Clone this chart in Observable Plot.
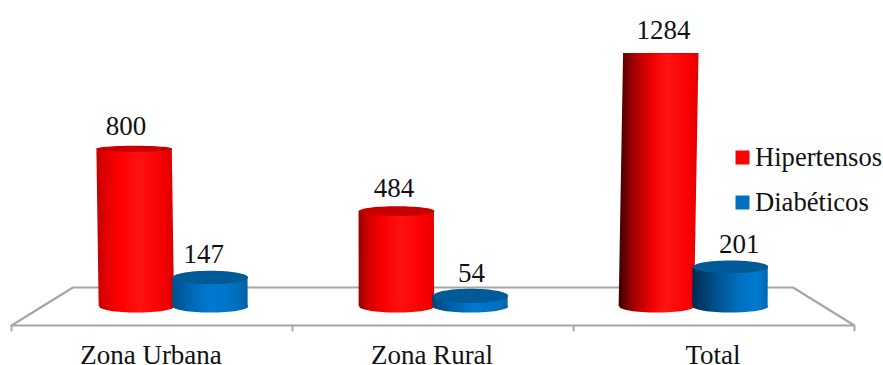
<!DOCTYPE html>
<html>
<head>
<meta charset="utf-8">
<script src="https://cdn.jsdelivr.net/npm/d3@7"></script>
<script src="https://cdn.jsdelivr.net/npm/@observablehq/plot@0.6"></script>
<style>
  html, body { margin: 0; padding: 0; background: #fff; }
  svg { display: block; }
</style>
</head>
<body>
<div id="chart"></div>
<script>
// Casos por zona
const zonas = ["Zona Urbana", "Zona Rural", "Total"];
const hipertensos = [800, 484, 1284];
const diabeticos = [147, 54, 201];
const series = ["Hipertensos", "Diabéticos"];
const serieValores = [hipertensos, diabeticos];
const leyendaColores = ["#ff0000", "#0070c0"];

// Cylinder shading, one ramp per zone: the outer zones catch more shadow on the left.
const rampas = [
  [ // red
    [[0, "#c40000"], [.14, "#e60000"], [.32, "#ff0000"], [.55, "#ff1212"], [.85, "#f60000"], [1, "#d80000"]],
    [[0, "#980000"], [.14, "#d40000"], [.34, "#fb0000"], [.55, "#ff1010"], [.85, "#fa0000"], [1, "#e60000"]],
    [[0, "#3c0000"], [.18, "#a00000"], [.42, "#ee0000"], [.6, "#ff1414"], [.88, "#fa0000"], [1, "#e00000"]]
  ],
  [ // blue
    [[0, "#005088"], [.2, "#0064ac"], [.5, "#007ad2"], [.85, "#0070c0"], [1, "#0062a8"]],
    [[0, "#004478"], [.22, "#005ea4"], [.55, "#0078d0"], [.85, "#0070c2"], [1, "#0064ac"]],
    [[0, "#002c52"], [.3, "#004f8c"], [.62, "#0070c0"], [.85, "#007acf"], [1, "#0068b4"]]
  ]
];
const tapas = ["#c80000", "#005a98"];

const fuente = "'Liberation Serif', 'Times New Roman', serif";
const tinta = "#111";
const gris = "#a6a6a6";

// The plot works in zone units across and case counts up; the floor sits around zero.
const xDomain = [0, 3];
const xRange = [42.5, 822.5];
const yDomain = [0, 1284];
const yRange = [306, 53];
const pxPorZona = (xRange[1] - xRange[0]) / (xDomain[1] - xDomain[0]);
const medio = (xDomain[0] + xDomain[1]) / 2;
const anchoBarra = 0.145;            // half a cylinder, in zone units
const rxBarra = anchoBarra * pxPorZona;
const separacion = [-0.139, 0.144];  // each series' offset from the zone centre
const fondoSuelo = 96.4;             // floor depth either side of the baseline
const abrirFrente = 843 / 780;       // front edge spreads out toward the viewer
const abrirFondo = 720 / 780;        // back edge pulls in
const desplazar = (u, k) => medio + (u - medio) * k;
const alturaAbre = (v) => 1 + v * v * 1.2e-8;   // taller cylinders lean slightly outward

const frente = (u) => desplazar(u, abrirFrente);
const fondo = (u) => desplazar(u, abrirFondo);

const suelo = [
  { u: frente(0), v: -fondoSuelo },
  { u: frente(3), v: -fondoSuelo },
  { u: fondo(3), v: fondoSuelo },
  { u: fondo(0), v: fondoSuelo },
  { u: frente(0), v: -fondoSuelo }
];

// Flattened ellipse used as a dot symbol; the dot radius sets its half-width.
function elipse(ry) {
  return {
    draw(ctx, size) {
      const rx = Math.sqrt(size / Math.PI);
      const k = 0.5523;
      ctx.moveTo(-rx, 0);
      ctx.bezierCurveTo(-rx, -ry * k, -rx * k, -ry, 0, -ry);
      ctx.bezierCurveTo(rx * k, -ry, rx, -ry * k, rx, 0);
      ctx.bezierCurveTo(rx, ry * k, rx * k, ry, 0, ry);
      ctx.bezierCurveTo(-rx * k, ry, -rx, ry * k, -rx, 0);
      ctx.closePath();
    }
  };
}

const barras = serieValores.flatMap((valores, s) =>
  valores.map((v, z) => ({
    serie: s,
    zona: z,
    valor: v,
    u: z + 0.5 + separacion[s]
  }))
);

function gradientes() {
  const defs = d3.create("svg:defs");
  rampas.forEach((porZona, s) => porZona.forEach((paradas, z) => {
    const g = defs.append("linearGradient")
      .attr("id", `cil-${s}-${z}`)
      .attr("x1", 0).attr("x2", 1).attr("y1", 0).attr("y2", 0);
    paradas.forEach(([o, c]) => g.append("stop").attr("offset", o).attr("stop-color", c));
  }));
  return defs.node();
}

function cilindro(b) {
  const relleno = `url(#cil-${b.serie}-${b.zona})`;
  const ryTapa = 7.5 * (1 - b.valor / 1350);
  const cuC = desplazar(b.u, alturaAbre(b.valor));
  const cuerpo = [
    { x1: b.u - anchoBarra, x2: b.u + anchoBarra, v: 0 },
    { x1: cuC - anchoBarra, x2: cuC + anchoBarra, v: b.valor }
  ];
  return [
    Plot.dot([b], {
      x: "u", y: () => 0, r: rxBarra, symbol: elipse(6),
      fill: relleno, stroke: "none"
    }),
    Plot.area(cuerpo, {
      x1: "x1", x2: "x2", y1: "v", y2: "v",
      fill: relleno, stroke: "none"
    }),
    Plot.dot([b], {
      x: () => cuC, y: "valor", r: rxBarra, symbol: elipse(ryTapa),
      fill: tapas[b.serie], stroke: "none"
    })
  ];
}

const plot = Plot.plot({
  width: 883,
  height: 365,
  marginTop: 0,
  marginRight: 0,
  marginBottom: 0,
  marginLeft: 0,
  style: { background: "#fff", fontFamily: fuente, color: tinta },
  x: { domain: xDomain, range: xRange, axis: null },
  y: { domain: yDomain, range: yRange, axis: null },
  marks: [
    gradientes,
    // Floor outline and the tick marks under its front edge
    Plot.line(suelo, { x: "u", y: "v", stroke: gris, strokeWidth: 2.2, strokeLinejoin: "miter" }),
    Plot.ruleX(d3.range(0, 4).map(frente), {
      x: (d) => d,
      y1: () => -fondoSuelo,
      y2: () => -fondoSuelo - 32,
      stroke: gris,
      strokeWidth: 2
    }),
    ...barras.flatMap(cilindro),
    // Counts above each cylinder
    Plot.text(barras, {
      x: (d) => desplazar(d.u - (d.serie === 0 && d.zona < 2 ? 0.007 : 0), 1.03),
      y: "valor",
      text: (d) => String(d.valor),
      dy: -23,
      fontSize: 27,
      fill: tinta
    }),
    // Zone names under the front edge
    Plot.text(zonas, {
      x: (d, i) => frente(i + 0.5),
      y: () => -fondoSuelo,
      text: (d) => d,
      dx: -1,
      dy: 30,
      fontSize: 27,
      fill: tinta
    }),
    // Legend, placed beside the last zone
    ...series.flatMap((nombre, i) => [
      Plot.dot([nombre], {
        frameAnchor: "top-left",
        dx: 742,
        dy: 157 + 45 * i,
        symbol: "square",
        r: 7.9,
        fill: leyendaColores[i]
      }),
      Plot.text([nombre], {
        frameAnchor: "top-left",
        lineAnchor: "middle",
        dx: 754.5,
        dy: 157 + 45 * i,
        text: (d) => d,
        textAnchor: "start",
        fontSize: 26.6,
        fill: tinta
      })
    ])
  ]
});
document.getElementById("chart").append(plot);
</script>
</body>
</html>
